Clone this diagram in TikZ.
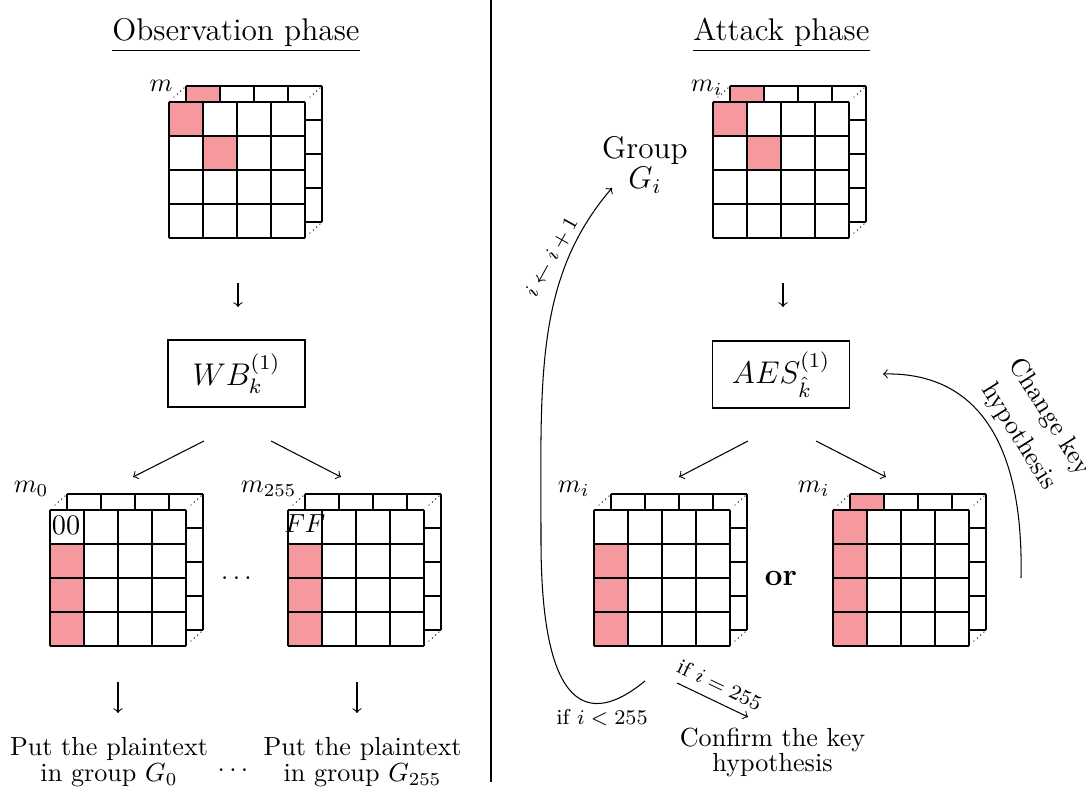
\documentclass[tikz,border=0pt]{standalone}
\usetikzlibrary{calc}
\definecolor{cellpink}{RGB}{245,153,158}
\tikzset{
  cellline/.style={line width=0.5pt},
  pinkcell/.style={fill=cellpink},
  depthdots/.style={line width=0.55pt, line cap=round, dash pattern=on 0pt off 1.7pt},
  flow/.style={->},
  stagebox/.style={draw, line width=0.5pt, minimum width=52.4pt, minimum height=25.6pt, inner sep=0pt, font=\large},
  lbl/.style={inner sep=0pt},
  cond/.style={font=\fontsize{8.2}{10}\selectfont},
  twoline/.style={align=center, inner sep=0pt, font=\fontsize{10}{9.8}\selectfont},
  phasetitle/.style={anchor=base, inner sep=0pt, font=\large},
}
% one shaded byte of a state layer: column #1, row #2
\newcommand\pcell[2]{\fill[pinkcell] (34*#1,34*#2) rectangle ++(34,34);}
% 4x4 grid of a state layer
\newcommand\cellgrid{%
  \foreach \k in {0,34,68,102,136}{%
    \draw[cellline] (\k,0) -- (\k,136) (0,\k) -- (136,\k);}}
% #1,#2: top-left corner of the front layer; #3: back-layer fills; #4: front-layer fills
\newcommand\statecube[4]{%
  \begin{scope}[shift={(#1,#2)}]
    \begin{scope}[shift={(17,-16)}]
      \fill[white] (0,0) rectangle (136,136);
      #3
      \cellgrid
    \end{scope}
    \draw[depthdots] (5,-5) -- (15,-14);
    \draw[depthdots] (141,-5) -- (151,-14);
    \draw[depthdots] (141,131) -- (151,122);
    \fill[white] (0,0) rectangle (136,136);
    #4
    \cellgrid
  \end{scope}}

\begin{document}
\begin{tikzpicture}[x=0.3824pt, y=-0.3824pt]
\useasboundingbox (0,0) rectangle (1086,787);

% separator between the two phases
\coordinate (sepT) at (491,0);
\coordinate (sepB) at (491,782);
\draw (sepT) -- (sepB);

% ---------------- observation phase ----------------
\node[phasetitle] (tobs) at (236,41) {\underline{Observation phase}};

\statecube{169}{102}{\pcell{0}{0}}{\pcell{0}{0}\pcell{1}{1}}
\node[anchor=base east, lbl] (mA) at (173,92) {$m$};

\coordinate (d1a) at (238,283); \coordinate (d1b) at (238,307);
\draw[flow] (d1a) -- (d1b);

\node[stagebox] (wb) at (236.5,373.5) {$WB_k^{(1)}$};

\coordinate (s1a) at (204,441); \coordinate (s1b) at (133,477);
\coordinate (s2a) at (271,441); \coordinate (s2b) at (341,477);
\draw[flow] (s1a) -- (s1b);
\draw[flow] (s2a) -- (s2b);

\statecube{50}{510}{}{\pcell{0}{1}\pcell{0}{2}\pcell{0}{3}}
\node[anchor=base east, lbl] (mB) at (49,493) {$m_0$};
\node[lbl, font=\fontsize{10.8}{13}\selectfont] (zz) at (66,525) {00};

\statecube{288}{510}{}{\pcell{0}{1}\pcell{0}{2}\pcell{0}{3}}
\node[anchor=base east, lbl] (mC) at (297,493) {$m_{255}$};
\node[lbl] (ff) at (305,524) {$FF$};

\node[lbl] (dA) at (236.5,578) {$\dots$};

\coordinate (d2a) at (118,682); \coordinate (d2b) at (118,713);
\coordinate (d3a) at (357,682); \coordinate (d3b) at (357,713);
\draw[flow] (d2a) -- (d2b);
\draw[flow] (d3a) -- (d3b);

\node[twoline] (gA) at (109,762) {Put the plaintext\\in group $G_0$};
\node[twoline] (gB) at (362.5,762) {Put the plaintext\\in group $G_{255}$};
\node[lbl] (dB) at (233,770) {$\dots$};

% ---------------- attack phase ----------------
\node[phasetitle] (tatt) at (781.5,41) {\underline{Attack phase}};

\statecube{713}{102}{\pcell{0}{0}}{\pcell{0}{0}\pcell{1}{1}}
\node[anchor=base east, lbl] (mD) at (723,92) {$m_i$};

\node[align=center, inner sep=0pt, font=\fontsize{12}{11.5}\selectfont] (grp) at (645,165) {Group\\$G_i$};

\coordinate (d4a) at (783,283); \coordinate (d4b) at (783,307);
\draw[flow] (d4a) -- (d4b);

\node[stagebox] (aes) at (781,374.5) {$AES_{\hat{k}}^{(1)}$};

\coordinate (s3a) at (748,441); \coordinate (s3b) at (679,477);
\coordinate (s4a) at (816,441); \coordinate (s4b) at (886,477);
\draw[flow] (s3a) -- (s3b);
\draw[flow] (s4a) -- (s4b);

\statecube{594}{510}{}{\pcell{0}{1}\pcell{0}{2}\pcell{0}{3}}
\node[anchor=base east, lbl] (mE) at (590,493) {$m_i$};

\node[font=\large\bfseries] (or) at (781,578) {or};

\statecube{833}{510}{\pcell{0}{0}}{\pcell{0}{0}\pcell{0}{1}\pcell{0}{2}\pcell{0}{3}}
\node[anchor=base east, lbl] (mF) at (830,493) {$m_i$};

% loop back to the next group
\coordinate (lpS) at (645,681);
\coordinate (lpM) at (541,540);
\coordinate (lpE) at (612,188);
\draw[flow] (lpS) .. controls (599,719) and (541,730) .. (lpM)
                  .. controls (541,380) and (534,279) .. (lpE);
\node[lbl, cond, rotate=61] (inc) at (552,257) {$i\leftarrow i+1$};
\node[lbl, cond] (lt) at (602,718) {if $i<255$};

% exit when all groups are done
\coordinate (okS) at (677,683); \coordinate (okE) at (748,717);
\draw[flow] (okS) -- node[sloped, above, cond] (eq) {if $i=255$} (okE);
\node[twoline] (conf) at (772.5,752.4) {Confirm the key\\hypothesis};

% retry with another key guess
\coordinate (chS) at (1021,578); \coordinate (chE) at (883,374);
\draw[flow] (chS) .. controls (1024,440) and (975,372) .. (chE);
\node[align=center, inner sep=0pt, rotate=-58, font=\fontsize{10}{14}\selectfont] (chg) at (1034,427) {Change key\\hypothesis};
\end{tikzpicture}
\end{document}
